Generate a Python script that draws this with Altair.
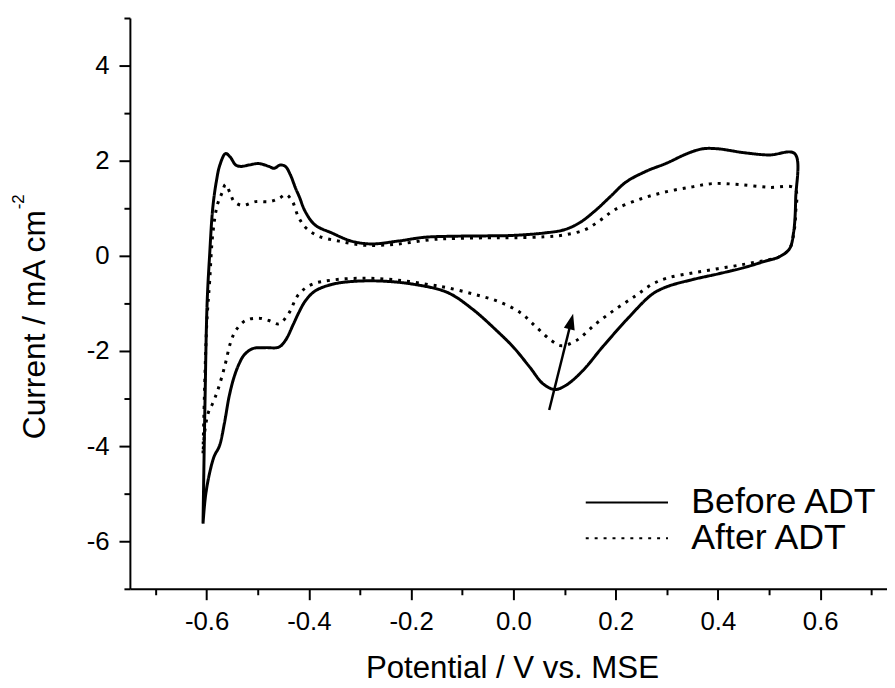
import altair as alt
import pandas as pd

FONT = "Liberation Sans"

series_names = ["Before ADT", "After ADT"]

before_x = [-0.607, -0.603, -0.599, -0.594, -0.588, -0.581, -0.574, -0.563, -0.554, -0.543,
            -0.533, -0.517, -0.498, -0.478, -0.468, -0.456, -0.446, -0.436, -0.426, -0.419,
            -0.407, -0.388, -0.355, -0.317, -0.278, -0.226, -0.174, -0.129, -0.05, 0.0,
            0.06, 0.10, 0.13, 0.16, 0.19, 0.22, 0.26, 0.30, 0.34, 0.37,
            0.40, 0.45, 0.50, 0.55,
            0.552, 0.548, 0.54, 0.52, 0.49, 0.45, 0.40, 0.35, 0.30, 0.271,
            0.226, 0.174, 0.136, 0.103, 0.081, 0.058, 0.032, 0.0, -0.032, -0.08,
            -0.129, -0.194, -0.259, -0.317, -0.355, -0.388, -0.407, -0.420, -0.430, -0.446,
            -0.459, -0.485, -0.510, -0.527, -0.536, -0.546, -0.556, -0.565, -0.575, -0.585,
            -0.594, -0.602, -0.607]
before_y = [-5.63, -3.0, -1.0, 0.03, 1.0, 1.56, 1.91, 2.15, 2.08, 1.91,
            1.88, 1.91, 1.94, 1.88, 1.84, 1.91, 1.88, 1.70, 1.42, 1.25,
            0.93, 0.65, 0.48, 0.31, 0.25, 0.31, 0.39, 0.41, 0.42, 0.43,
            0.48, 0.55, 0.70, 0.95, 1.25, 1.55, 1.78, 1.95, 2.15, 2.25,
            2.25, 2.17, 2.12, 2.15,
            1.2, 0.5, 0.15, -0.02, -0.12, -0.25, -0.38, -0.50, -0.65, -0.81,
            -1.29, -1.92, -2.41, -2.72, -2.81, -2.69, -2.34, -1.92, -1.58, -1.12,
            -0.77, -0.60, -0.53, -0.54, -0.60, -0.74, -0.95, -1.2, -1.43, -1.78,
            -1.92, -1.93, -1.95, -2.09, -2.26, -2.54, -2.96, -3.51, -4.0, -4.21,
            -4.56, -5.04, -5.63]

after_x = [-0.607, -0.600, -0.594, -0.588, -0.579, -0.570, -0.563, -0.554, -0.546, -0.530,
           -0.504, -0.477, -0.458, -0.445, -0.432, -0.421, -0.406, -0.380, -0.341, -0.289,
           -0.225, -0.161, -0.129, -0.05, 0.0, 0.06, 0.10, 0.14, 0.17, 0.20,
           0.25, 0.30, 0.35, 0.39, 0.44, 0.50, 0.55,
           0.552, 0.548, 0.54, 0.52, 0.49, 0.45, 0.40, 0.35, 0.30, 0.271,
           0.239, 0.20, 0.161, 0.123, 0.094, 0.074, 0.045, 0.013, -0.032, -0.08,
           -0.129, -0.162, -0.226, -0.291, -0.355, -0.394, -0.420, -0.440, -0.459, -0.478,
           -0.498, -0.524, -0.543, -0.553, -0.565, -0.578, -0.588, -0.597, -0.604, -0.607]
after_y = [-4.15, -1.5, -0.53, 0.45, 1.07, 1.32, 1.50, 1.32, 1.14, 1.06,
           1.14, 1.14, 1.21, 1.29, 1.14, 0.83, 0.59, 0.41, 0.31, 0.22,
           0.25, 0.34, 0.36, 0.38, 0.38, 0.40, 0.44, 0.55, 0.75, 0.98,
           1.20, 1.35, 1.45, 1.52, 1.50, 1.44, 1.42,
           0.9, 0.45, 0.15, -0.02, -0.10, -0.18, -0.27, -0.36, -0.47, -0.60,
           -0.84, -1.12, -1.43, -1.78, -1.89, -1.78, -1.50, -1.19, -0.95, -0.80,
           -0.67, -0.61, -0.51, -0.47, -0.51, -0.60, -0.81, -1.22, -1.43, -1.36,
           -1.31, -1.36, -1.57, -1.82, -2.34, -2.82, -3.10, -3.31, -3.73, -4.15]

x_ticks = [-0.7, -0.6, -0.5, -0.4, -0.3, -0.2, -0.1, 0.0, 0.1, 0.2, 0.3, 0.4, 0.5, 0.6, 0.7]
y_ticks = [-7, -6, -5, -4, -3, -2, -1, 0, 1, 2, 3, 4, 5]

arrow_x = [0.070, 0.113]
arrow_y = [-3.24, -1.38]

rows = []
for name, xs, ys in [(series_names[0], before_x, before_y), (series_names[1], after_x, after_y)]:
    for i, (xv, yv) in enumerate(zip(xs, ys)):
        rows.append({"series": name, "E": xv, "I": yv, "k": i})
df = pd.DataFrame(rows)

arrow_df = pd.DataFrame({"x": [arrow_x[0]], "y": [arrow_y[0]], "x2": [arrow_x[1]], "y2": [arrow_y[1]]})
head_df = pd.DataFrame({"x": [arrow_x[1]], "y": [arrow_y[1]]})
sup_df = pd.DataFrame({"sup": ["-2"]})

x_scale = alt.Scale(domain=[-0.75, 0.7306], nice=False, zero=False)
y_scale = alt.Scale(domain=[-7, 5], nice=False, zero=False)

x_axis = alt.Axis(
    values=x_ticks,
    labelExpr="abs(round(datum.value*10)) % 2 == 0 ? (datum.value < -0.001 ? '-' : '') + format(abs(datum.value), '.1f') : ''",
    tickSize={"condition": {"test": "abs(round(datum.value*10)) % 2 == 0", "value": 11}, "value": 6},
    labelPadding=9,
    labelOverlap=False,
    labelFlush=False,
    title="Potential / V vs. MSE",
    titleX=385.5,
    titleY=90,
    titleAlign="center",
    titleBaseline="alphabetic",
    titleFontSize=31.5,
)
y_axis = alt.Axis(
    values=y_ticks,
    labelExpr="datum.value % 2 == 0 ? (datum.value < 0 ? '-' : '') + format(abs(datum.value), 'd') : ''",
    tickSize={"condition": {"test": "datum.value % 2 == 0", "value": 11}, "value": 6},
    labelPadding=10,
    labelOverlap=False,
    labelFlush=False,
    title="Current / mA cm",
    titleX=-86,
    titleY=309,
    titleAngle=270,
    titleAlign="center",
    titleBaseline="alphabetic",
    titleFontSize=32,
)

legend = alt.Legend(
    title=None,
    orient="none",
    legendX=460,
    legendY=471,
    padding=0,
    labelFont=FONT,
    labelFontSize=36,
    labelColor="black",
    labelLimit=400,
    symbolType="M-2.5,0H2.5",
    symbolSize=1102,
    symbolStrokeWidth=2,
    symbolStrokeColor="black",
    symbolOffset=23.5,
    labelOffset=47,
    rowPadding=-6,
)

lines = alt.Chart(df).mark_line(color="black", strokeWidth=3, interpolate="catmull-rom").encode(
    x=alt.X("E:Q", scale=x_scale, axis=x_axis),
    y=alt.Y("I:Q", scale=y_scale, axis=y_axis),
    order=alt.Order("k:Q"),
    strokeDash=alt.StrokeDash(
        "series:N",
        scale=alt.Scale(domain=series_names, range=[[1, 0], [3, 6]]),
        sort=series_names,
        legend=legend,
    ),
)

shaft = alt.Chart(arrow_df).mark_rule(color="black", strokeWidth=2.5).encode(
    x=alt.X("x:Q", scale=x_scale),
    y=alt.Y("y:Q", scale=y_scale),
    x2="x2:Q",
    y2="y2:Q",
)

head = alt.Chart(head_df).mark_point(
    shape="M0,-1L0.7,1L-0.7,1Z", filled=True, color="black", size=256, angle=14, opacity=1
).encode(
    x=alt.X("x:Q", scale=x_scale),
    y=alt.Y("y:Q", scale=y_scale),
)

sup = alt.Chart(sup_df).mark_text(
    angle=270, align="left", baseline="alphabetic", fontSize=17, font=FONT, color="black"
).encode(
    x=alt.value(-107),
    y=alt.value(193),
    text="sup:N",
)

chart = alt.layer(lines, shaft, head, sup).properties(
    width=764,
    height=576,
    padding={"left": 123, "top": 7, "right": 0, "bottom": 97},
    autosize=alt.AutoSizeParams(type="none"),
).configure_view(strokeWidth=0).configure_axis(
    domainColor="black",
    domainWidth=2,
    tickColor="black",
    tickWidth=2,
    labelColor="black",
    titleColor="black",
    grid=False,
    labelFont=FONT,
    titleFont=FONT,
    labelFontSize=26,
    titleFontWeight="normal",
)

chart.save("out.html", embed_options={"renderer": "svg", "actions": False})
